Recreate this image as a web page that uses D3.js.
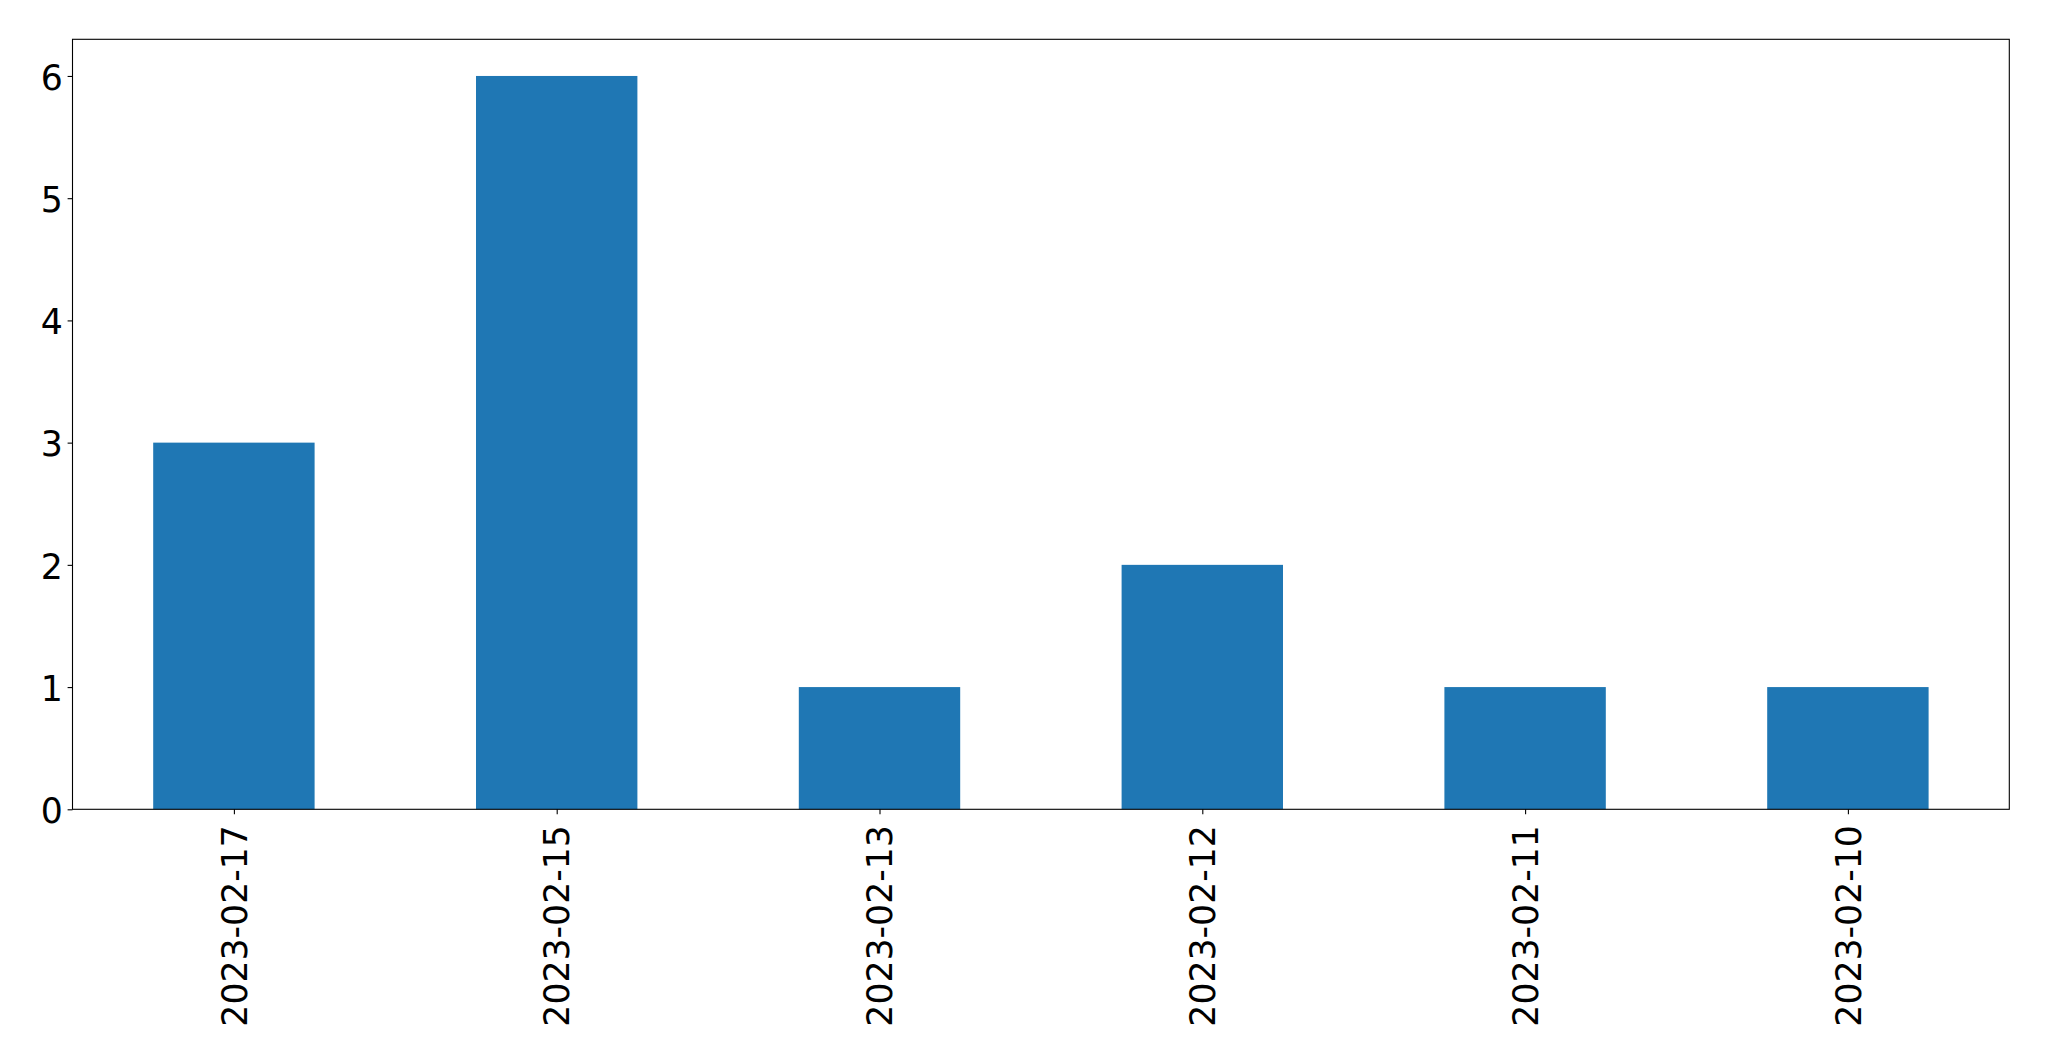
<!DOCTYPE html>
<html>
<head>
<meta charset="utf-8">
<script src="https://cdn.jsdelivr.net/npm/d3@7"></script>
<style>
html, body { margin: 0; padding: 0; background: #fff; }
svg { display: block; }
text { font-family: "DejaVu Sans", sans-serif; fill: #000; }
</style>
</head>
<body>
<script>
const categories = ["2023-02-17", "2023-02-15", "2023-02-13", "2023-02-12", "2023-02-11", "2023-02-10"];
const values = [3, 6, 1, 2, 1, 1];
const yTicks = [0, 1, 2, 3, 4, 5, 6];

(function () {
const W = 2049, H = 1061;
const mLeft = 72.5, mRight = 2009.3, mTop = 39.3, mBottom = 809.3;
const fontSize = 34.7;
const tickLen = 4.9, pad = 4.9;

const svg = d3.select("body").append("svg").attr("width", W).attr("height", H);

const x = d3.scaleLinear().domain([-0.5, categories.length - 0.5]).range([mLeft, mRight]);
const y = d3.scaleLinear().domain([0, 6.3]).range([mBottom, mTop]);
const barW = 0.5;

svg.append("g").selectAll("rect").data(values).join("rect")
  .attr("x", (d, i) => x(i - barW / 2))
  .attr("width", (d, i) => x(i + barW / 2) - x(i - barW / 2))
  .attr("y", d => y(d))
  .attr("height", d => y(0) - y(d))
  .attr("fill", "#1f77b4");

// y axis
const yAxis = d3.axisLeft(y).tickValues(yTicks).tickFormat(d3.format("d")).tickSize(tickLen).tickPadding(pad);
const gy = svg.append("g").attr("transform", `translate(${mLeft},0)`).call(yAxis);
gy.select(".domain").remove();
gy.selectAll(".tick line").attr("stroke", "#000").attr("stroke-width", 1.1);
gy.selectAll(".tick text").attr("font-size", fontSize).attr("font-family", "DejaVu Sans, sans-serif").attr("dy", "0.38em");

// x axis
const xAxis = d3.axisBottom(x).tickValues(d3.range(categories.length)).tickFormat(i => categories[i]).tickSize(tickLen).tickPadding(pad);
const gx = svg.append("g").attr("transform", `translate(0,${mBottom})`).call(xAxis);
gx.select(".domain").remove();
gx.selectAll(".tick line").attr("stroke", "#000").attr("stroke-width", 1.1);
gx.selectAll(".tick text")
  .attr("font-size", fontSize)
  .attr("font-family", "DejaVu Sans, sans-serif")
  .attr("text-anchor", "end")
  .attr("y", 0).attr("dy", "0.35em")
  .attr("transform", `translate(0,${tickLen + pad + 6}) rotate(-90)`);

// frame
svg.append("rect")
  .attr("x", mLeft).attr("y", mTop)
  .attr("width", mRight - mLeft).attr("height", mBottom - mTop)
  .attr("fill", "none").attr("stroke", "#000").attr("stroke-width", 1.1);
})();
</script>
</body>
</html>
